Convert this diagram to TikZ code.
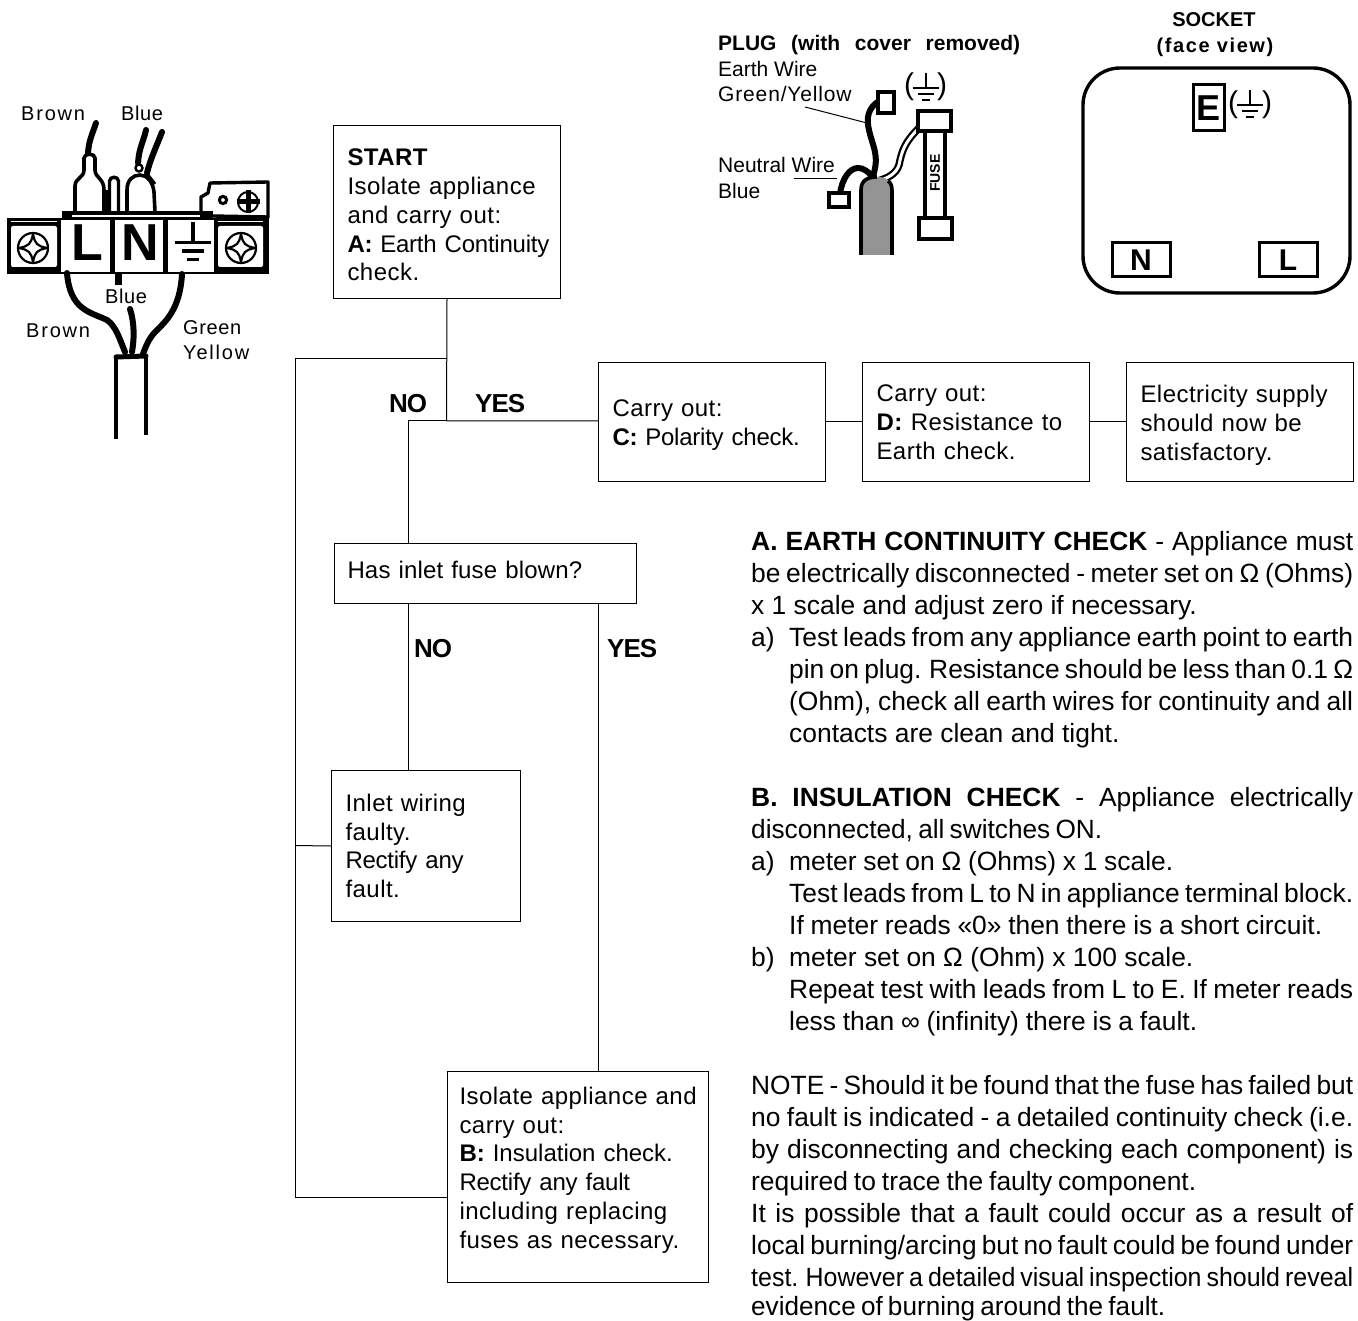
\documentclass[tikz,border=0pt]{standalone}
\usepackage{fontspec}
\usepackage{graphicx}
\setmainfont{Liberation Sans}
\newsavebox\linebox
\def\flowfont{\fontsize{24}{28.8}\selectfont\addfontfeature{LetterSpace=2}}
\def\bodyfont{\fontsize{26.4}{32}\selectfont}
\def\tagfont{\fontsize{20}{25}\selectfont\addfontfeature{LetterSpace=3}}
\def\yn{\fontsize{26}{30}\selectfont\bfseries\addfontfeature{LetterSpace=-4}}
\def\fitline#1#2{\sbox\linebox{\spaceskip=.2em\relax #2}\ifdim\wd\linebox>#1\resizebox{#1}{\height}{\usebox\linebox}\else\makebox[#1][s]{\spaceskip=.2em plus 1fil\relax #2}\fi}
\def\jl#1{\fitline{602pt}{#1}}
\def\ji#1{\hspace*{38pt}\fitline{564pt}{#1}}
\def\ia#1{\makebox[38pt][l]{#1}}
\def\tight#1{{\addfontfeature{LetterSpace=-1}#1}}
\def\wide#1{{\addfontfeature{LetterSpace=9}#1}}
\def\earthsym{-- ++(0,15) ++(-13,0) -- ++(26,0) ++(-21,6) -- ++(16,0) ++(-12,6) -- ++(8,0)}
\def\dwire{\draw[line width=6pt,line cap=round]}
\tikzset{
  flowbox/.style={draw,line width=1pt,anchor=north west,inner xsep=14pt,inner ysep=0pt,align=left,font=\flowfont},
  yntag/.style={anchor=base west,inner sep=0pt,font=\yn},
  wiretag/.style={anchor=base west,inner sep=0pt,font=\tagfont},
  plugtag/.style={anchor=base west,inner sep=0pt,font=\fontsize{21}{25}\selectfont},
  note/.style={anchor=north west,inner sep=0pt,align=left,font=\bodyfont},
  part/.style={draw,line width=3.4pt,fill=white},
  lead/.style={line width=3.6pt,line join=round},
  pin/.style={draw,line width=3pt,inner sep=0pt,font=\fontsize{30}{30}\selectfont\bfseries},
  bracket/.style={inner sep=0pt,font=\fontsize{30}{30}\selectfont}
}
\begin{document}
\begin{tikzpicture}[x=1pt,y=-1pt]
\useasboundingbox (0,0) rectangle (1358,1321);

% flow chart
\node[flowbox,text width=199pt,minimum height=173pt] (start) at (333,125)
  {\rule{0pt}{23pt}\textbf{START}\\Isolate appliance\\and carry out:\\\mbox{\tight{\textbf{A:} Earth Continuity}}\\check.};
\node[flowbox,text width=199pt,minimum height=119pt] (polarity) at (598,362)
  {\rule{0pt}{23pt}Carry out:\\\tight{\textbf{C:} Polarity check.}};
\node[flowbox,text width=199pt,minimum height=119pt] (resist) at (862,362)
  {Carry out:\\\textbf{D:} Resistance to\\Earth check.};
\node[flowbox,text width=199pt,minimum height=119pt] (supply) at (1126,362)
  {\rule{0pt}{24pt}Electricity supply\\should now be\\satisfactory.};
\node[flowbox,inner xsep=13pt,text width=276pt,minimum height=60pt] (fuse) at (334,543)
  {{\addfontfeature{LetterSpace=.8}Has inlet fuse blown?}\rule[-7pt]{0pt}{1pt}};
\node[flowbox,text width=161pt,minimum height=151pt] (inlet) at (331,770)
  {Inlet wiring\\faulty.\\\tight{Rectify any}\\fault.};
\node[flowbox,inner xsep=12pt,text width=237pt,minimum height=211pt] (insul) at (447,1071)
  {Isolate appliance and\\carry out:\\{\addfontfeature{LetterSpace=0}\textbf{B:} Insulation check.}\\\tight{Rectify any fault}\\including replacing\\fuses as necessary.\rule[-19pt]{0pt}{1pt}};

\coordinate (fork) at (446.5,359);
\coordinate (joint) at (446.5,421);
\coordinate (backtop) at (295,359);
\coordinate (backmid) at (295,845.5);
\coordinate (backend) at (295,1197);
\coordinate (fusetop) at (408,421);
\coordinate (fuseyes) at (598,603);

\draw[line width=1pt] (start.south) -- (joint) -- (joint -| polarity.west);
\draw[line width=1pt] (fork) -- (backtop) -- (backend) -- (backend -| insul.west);
\draw[line width=1pt] (backmid) -- (inlet.west);
\draw[line width=1pt] (joint) -- (fusetop) -- (fusetop |- fuse.north);
\draw[line width=1pt] (fusetop |- fuse.south) -- (fusetop |- inlet.north);
\draw[line width=1pt] (fuseyes) -- (fuseyes |- insul.north);
\draw[line width=1pt] (polarity.east) -- (resist.west);
\draw[line width=1pt] (resist.east) -- (supply.west);

\node[yntag] (no1) at (389,413) {NO};
\node[yntag] (yes1) at (475,413) {YES};
\node[yntag] (no2) at (414,657) {NO};
\node[yntag] (yes2) at (607,657) {YES};

% leads above the block
\dwire (88,153) .. controls (89,140) and (92,135) .. (96,123);
\dwire (138,163) .. controls (139,148) and (143,143) .. (146,130);
\dwire (147,173) .. controls (150,160) and (157,145) .. (162,132);
\fill (100,190) rectangle (110,212);
\draw[lead,fill=white] (75,212) -- (75,186) .. controls (75,178) and (84,178) .. (84,170)
  -- (84,158) .. controls (84,153) and (95,153) .. (95,158) -- (95,170)
  .. controls (95,178) and (104,178) .. (104,190) -- (104,212);
\draw[line width=3.4pt,fill=white] (109.5,212) -- (109.5,181) .. controls (110,176) and (118,176) .. (118.5,181) -- (118.5,212);
\draw[lead,fill=white] (127,212) -- (127,190) .. controls (127,180) and (133,175) .. (140,175)
  .. controls (147,175) and (153,182) .. (154,192) -- (155,212);
\draw[line width=2.4pt,fill=white] (139,168) circle (3.5);
\draw[line width=3pt] (148,175) -- (155,184);

% terminal block
\fill (7,218) rectangle (269,274);
\fill (62,211) rectangle (213,220);
\fill[white] (72,215.5) rectangle (200,217);
\fill[white,rounded corners=2pt] (11,226) rectangle (57,267);
\fill[white] (11,221) rectangle (57,222.5);
\fill[white] (61,220) rectangle (110,272);
\fill[white] (115,220) rectangle (163,272);
\fill[white] (168,220) rectangle (214,272);
\fill[white,rounded corners=2pt] (218,226) rectangle (263,267);
\fill[white] (218,221) rectangle (263,222.5);
\foreach \sx in {33,241}{
  \draw[line width=2.2pt] (\sx,248) circle (15);
  \draw[line width=2.2pt,line join=round] (\sx-14,248) .. controls (\sx-4,246) and (\sx-2,244) .. (\sx,234)
     .. controls (\sx+2,244) and (\sx+4,246) .. (\sx+14,248)
     .. controls (\sx+4,250) and (\sx+2,252) .. (\sx,262)
     .. controls (\sx-2,252) and (\sx-4,250) .. cycle;
}
\node[inner sep=0pt,font=\fontsize{52}{52}\selectfont\bfseries] (lterm) at (87,243) {L};
\node[inner sep=0pt,font=\fontsize{52}{52}\selectfont\bfseries] (nterm) at (140,243) {N};
\draw[line width=3.4pt,shift={(193,222)},scale=1.38] (0,0) \earthsym;

% bracket
\draw[line width=3.4pt,line join=round] (201,214) -- (201,197) -- (208,193) -- (210,183) -- (268,182) -- (268,218);
\draw[line width=3.4pt] (213,216) -- (268,217);
\draw[line width=3pt] (223,200) circle (3.6);
\draw[line width=2pt,fill=white] (248,202) circle (10);
\draw[line width=5pt] (248,190.5) -- (248,213.5) (236.5,202) -- (259.5,202);

% leads below the block
\dwire (67,273) .. controls (70,310) and (90,312) .. (107,320) .. controls (116,326) and (120,340) .. (125,352);
\draw[line width=7pt] (118,274) -- (118,285);
\dwire (130,309) .. controls (135,325) and (134,340) .. (132,352);
\dwire (182,274) .. controls (180,310) and (165,322) .. (155,332) .. controls (148,340) and (146,346) .. (143,354);
\draw[line width=5pt,line cap=round] (116,357) -- (146,356);
\draw[line width=3.6pt] (116,358) -- (116,439);
\draw[line width=3.6pt] (146,358) -- (146,435);

\node[wiretag] (brownt) at (21,121) {\wide{Brown}};
\node[wiretag] (bluet) at (121,121) {Blue};
\node[wiretag] (blueb) at (105,304) {Blue};
\node[wiretag] (brownb) at (26,338) {\wide{Brown}};
\node[wiretag] (greenb) at (183,335) {Green};
\node[wiretag] (yellowb) at (183,360) {\wide{Yellow}};

% plug
\node[plugtag,font=\fontsize{21}{25}\selectfont\bfseries] (plugtitle) at (718,51) {\makebox[302pt][s]{PLUG (with cover removed)}};
\node[plugtag] (earthwire) at (718,77) {Earth Wire};
\node[plugtag] (greenyellow) at (718,102) {\addfontfeature{LetterSpace=4}Green/Yellow};
\node[plugtag] (neutralwire) at (718,173) {Neutral Wire};
\node[plugtag] (neutralblue) at (718,199) {Blue};
\draw[line width=1pt] (805,107) -- (867,123);
\draw[line width=1pt] (794,179) -- (837,179);
\node[bracket] (plugopen) at (909,87) {(};
\node[bracket] (plugclose) at (942,87) {)};
\draw[line width=2.8pt,shift={(926,73)}] (0,0) \earthsym;

\draw[line width=7.5pt] (919,128) .. controls (905,142) and (902,150) .. (899,165) .. controls (896,174) and (888,178) .. (878,181);
\draw[line width=3pt,white] (919,128) .. controls (905,142) and (902,150) .. (899,165) .. controls (896,174) and (888,178) .. (878,181);
\draw[part] (925,131) rectangle (945,218);
\draw[part] (918,111) rectangle (951,131);
\draw[part] (919,218) rectangle (952,239);
\node[rotate=90,inner sep=0pt,font=\fontsize{14}{14}\selectfont\bfseries] (fusetext) at (935,173) {FUSE};

\dwire (840,194) .. controls (842,178) and (850,168) .. (858,168) .. controls (864,168) and (868,172) .. (872,176);
\dwire (879,101) .. controls (868,108) and (866,118) .. (869,130) .. controls (872,145) and (880,155) .. (873,176);
\draw[part] (829,193) rectangle (849,207);
\draw[part] (878,92) rectangle (894,113);
\fill[black!42] (861,255) -- (861,190) .. controls (861,180) and (868,177) .. (877,177) .. controls (886,177) and (892,180) .. (892,190) -- (892,255) -- cycle;
\draw[line width=3.6pt] (861,255) -- (861,190) .. controls (861,180) and (868,177) .. (877,177);
\draw[line width=3.6pt] (892,255) -- (892,190) .. controls (892,185) and (890,182) .. (888,181);

% socket
\node[inner sep=0pt,font=\fontsize{20}{24}\selectfont\bfseries] (sockettitle) at (1214,20) {SOCKET};
\node[inner sep=0pt,font=\fontsize{20}{24}\selectfont\bfseries\addfontfeature{LetterSpace=8}] (socketview) at (1215,47.5) {(face view)};
\draw[line width=3.4pt,rounded corners=37pt] (1083,68) rectangle (1350,293);
\node[pin,minimum width=31pt,minimum height=46pt,font=\fontsize{36}{36}\selectfont\bfseries] (epin) at (1208.5,108) {E};
\node[pin,minimum width=58pt,minimum height=34pt] (npin) at (1141,260) {N};
\node[pin,minimum width=58pt,minimum height=34pt] (lpin) at (1288,260) {L};
\node[bracket] (sockopen) at (1233,105) {(};
\node[bracket] (sockclose) at (1267,105) {)};
\draw[line width=2.8pt,shift={(1250,90)}] (0,0) \earthsym;

% notes
\node[note] (checka) at (751,531) {%
\jl{\textbf{A. EARTH CONTINUITY CHECK} - Appliance must}\\
\jl{be electrically disconnected - meter set on Ω (Ohms)}\\
x 1 scale and adjust zero if necessary.\\
\ia{a)}\fitline{564pt}{Test leads from any appliance earth point to earth}\\
\ji{pin on plug. Resistance should be less than 0.1 Ω}\\
\ji{(Ohm), check all earth wires for continuity and all}\\
\hspace*{38pt}contacts are clean and tight.};
\node[note] (checkb) at (751,787) {%
\jl{\textbf{B. INSULATION CHECK} - Appliance electrically}\\
\fitline{351pt}{disconnected, all switches ON.}\\
\ia{a)}\fitline{384pt}{meter set on Ω (Ohms) x 1 scale.}\\
\ji{Test leads from L to N in appliance terminal block.}\\
\hspace*{38pt}\fitline{533pt}{If meter reads «0» then there is a short circuit.}\\
\ia{b)}meter set on Ω (Ohm) x 100 scale.\\
\ji{Repeat test with leads from L to E. If meter reads}\\
\hspace*{38pt}\fitline{408pt}{less than ∞ (infinity) there is a fault.}};
\node[note] (notetext) at (751,1075) {%
\jl{NOTE - Should it be found that the fuse has failed but}\\
\jl{no fault is indicated - a detailed continuity check (i.e.}\\
\jl{by disconnecting and checking each component) is}\\
\fitline{445pt}{required to trace the faulty component.}\\
\jl{It is possible that a fault could occur as a result of}\\
\jl{local burning/arcing but no fault could be found under}\\
\jl{test. However a detailed visual inspection should reveal}\\[-3pt]
\fitline{414pt}{evidence of burning around the fault.}};
\end{tikzpicture}
\end{document}
